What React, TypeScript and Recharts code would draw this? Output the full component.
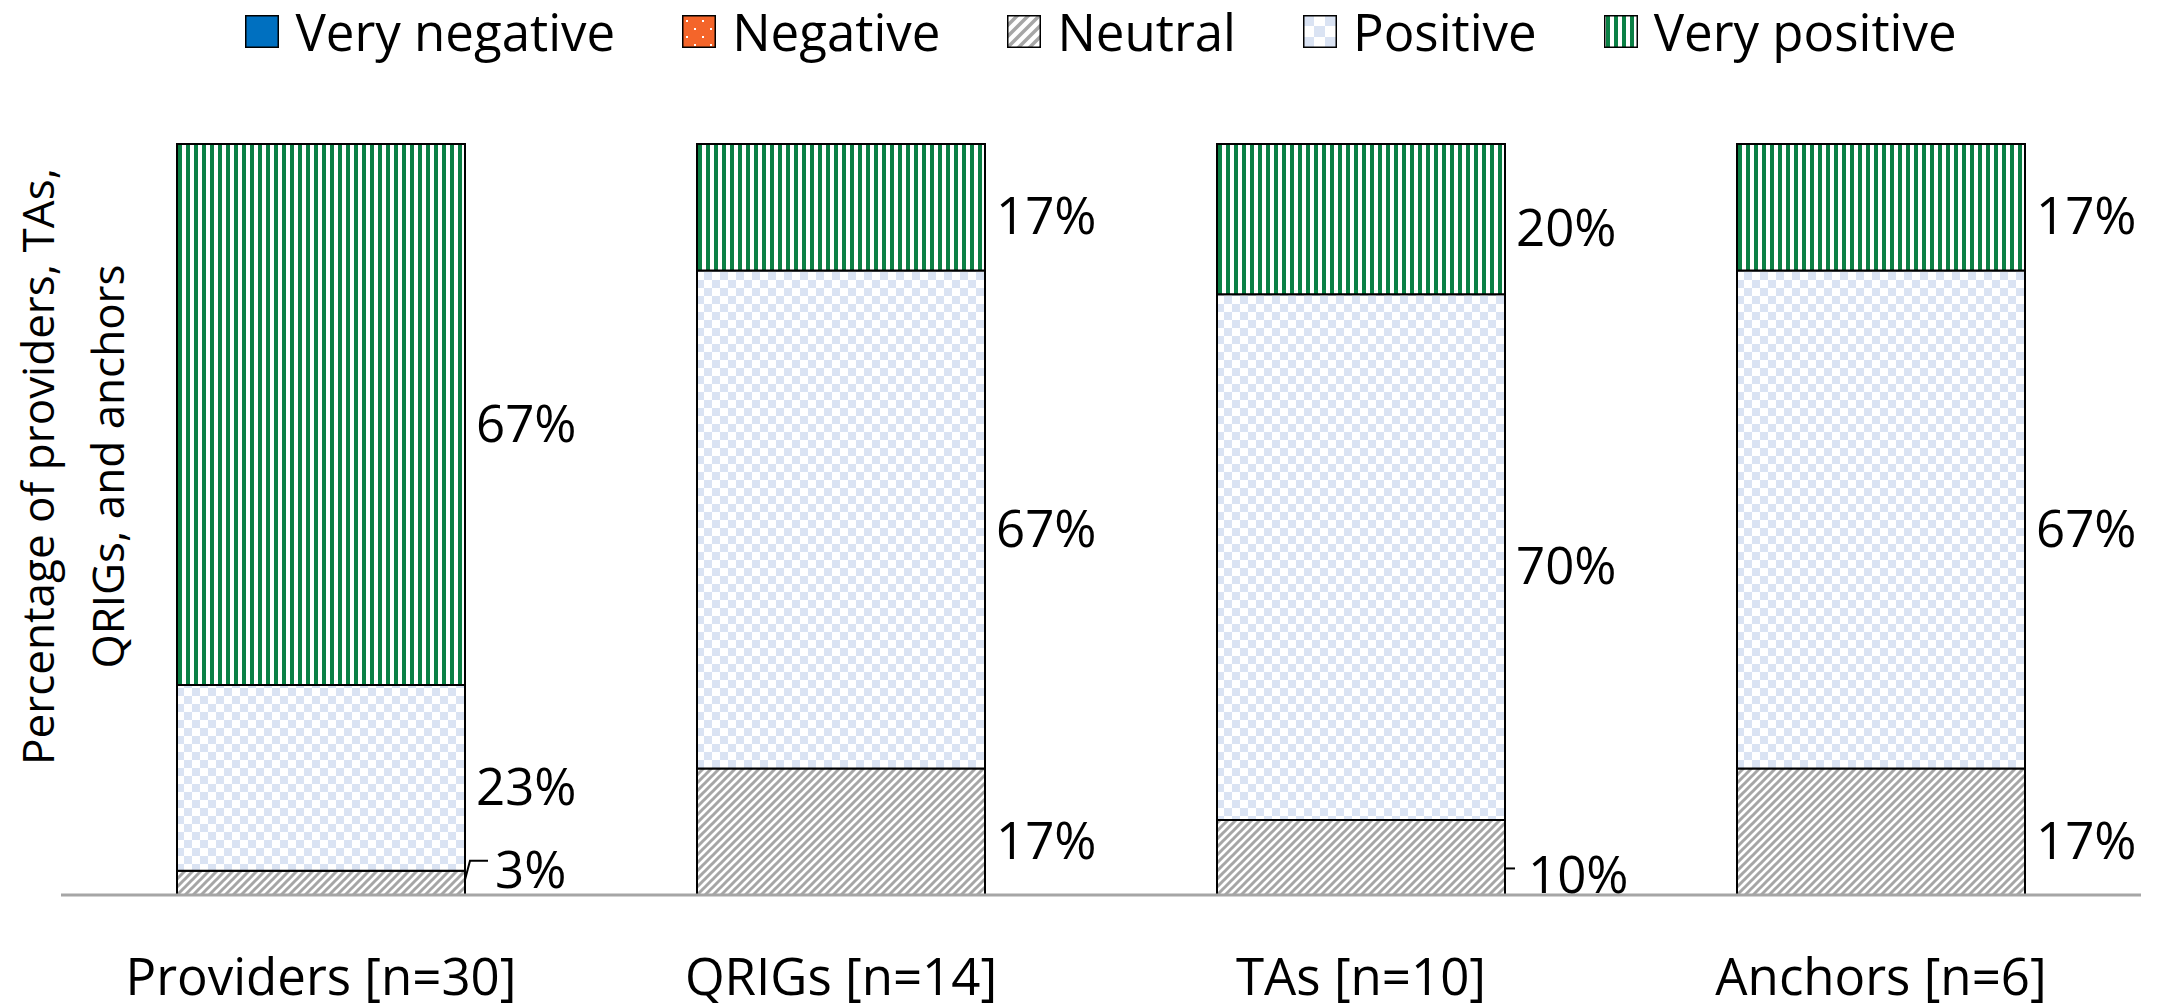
import React from "react";
import { BarChart, Bar, XAxis, YAxis, Legend, LabelList } from "recharts";

const categories = ["Providers [n=30]", "QRIGs [n=14]", "TAs [n=10]", "Anchors [n=6]"];
const veryNegative = [0, 0, 0, 0];
const negative = [0, 0, 0, 0];
const neutral = [3, 17, 10, 17];
const positive = [23, 67, 70, 67];
const veryPositive = [67, 17, 20, 17];
const seriesNames = ["Very negative", "Negative", "Neutral", "Positive", "Very positive"];
const yAxisTitle = ["Percentage of providers, TAs,", "QRIGs, and anchors"];

const FONT = "'Open Sans', 'Noto Sans', sans-serif";
const FS = 51;
const TITLE_FS = 44;

const data = categories.map((name, i) => ({
  name,
  veryNegative: veryNegative[i],
  negative: negative[i],
  neutral: neutral[i],
  positive: positive[i],
  veryPositive: veryPositive[i],
}));

const series = [
  { key: "veryNegative", name: seriesNames[0], fill: "#0070C0", legendFill: "#0070C0", label: false },
  { key: "negative", name: seriesNames[1], fill: "url(#patNeg)", legendFill: "url(#patNegL)", label: false },
  { key: "neutral", name: seriesNames[2], fill: "url(#patNeu)", legendFill: "url(#patNeuL)", label: true },
  { key: "positive", name: seriesNames[3], fill: "url(#patPos)", legendFill: "url(#patPosL)", label: true },
  { key: "veryPositive", name: seriesNames[4], fill: "url(#patVP)", legendFill: "url(#patVP)", label: true },
];

const Patterns = () => (
  <svg width={0} height={0} style={{ position: "absolute" }}>
    <defs>
      <pattern id="patVP" patternUnits="userSpaceOnUse" width={8} height={8}>
        <rect width={8} height={8} fill="#fff" />
        <rect x={2} width={4} height={8} fill="#0B8045" />
      </pattern>
      <pattern id="patPos" patternUnits="userSpaceOnUse" width={16} height={16}>
        <rect width={16} height={16} fill="#fff" />
        <rect x={0} y={0} width={8} height={8} fill="#DAE3F3" />
        <rect x={8} y={8} width={8} height={8} fill="#DAE3F3" />
      </pattern>
      <pattern id="patPosL" patternUnits="userSpaceOnUse" width={22} height={22}>
        <rect width={22} height={22} fill="#fff" />
        <rect x={0} y={0} width={11} height={11} fill="#DAE3F3" />
        <rect x={11} y={11} width={11} height={11} fill="#DAE3F3" />
      </pattern>
      <pattern id="patNeu" patternUnits="userSpaceOnUse" width={8} height={8}>
        <rect width={8} height={8} fill="#fff" />
        <path d="M-2,2 L2,-2 M0,8 L8,0 M6,10 L10,6" stroke="#A6A6A6" strokeWidth={3} />
      </pattern>
      <pattern id="patNeuL" patternUnits="userSpaceOnUse" width={11} height={11}>
        <rect width={11} height={11} fill="#fff" />
        <path d="M-3,3 L3,-3 M0,11 L11,0 M8,14 L14,8" stroke="#A6A6A6" strokeWidth={3.5} />
      </pattern>
      <pattern id="patNeg" patternUnits="userSpaceOnUse" width={12} height={12}>
        <rect width={12} height={12} fill="#F4652A" />
        <rect x={2} y={2} width={2} height={2} fill="#fff" />
        <rect x={8} y={8} width={2} height={2} fill="#fff" />
      </pattern>
      <pattern id="patNegL" patternUnits="userSpaceOnUse" width={16} height={16}>
        <rect width={16} height={16} fill="#F4652A" />
        <rect x={4} y={5} width={2} height={2} fill="#fff" />
        <rect x={12} y={13} width={2} height={2} fill="#fff" />
      </pattern>
    </defs>
  </svg>
);

const renderLabel = (props: any) => {
  const { x, y, width, height, value } = props;
  const v = Number(value);
  if (!v) return null;
  const right = Number(x) + Number(width);
  const top = Number(y);
  const cy = top + Number(height) / 2;
  const txt = `${v}%`;
  const common = { fontFamily: FONT, fontSize: FS, fill: "#000", textAnchor: "start" as const };
  if (v < 5) {
    return (
      <g>
        <polyline
          points={`${right},${top + 9} ${right + 5},${top - 10} ${right + 23},${top - 10}`}
          fill="none"
          stroke="#000"
          strokeWidth={2}
        />
        <text x={right + 30} y={top + 17} {...common}>{txt}</text>
      </g>
    );
  }
  if (v <= 10) {
    return (
      <g>
        <line x1={right} y1={cy + 11} x2={right + 10} y2={cy + 11} stroke="#000" strokeWidth={2} />
        <text x={right + 23} y={cy + 36} {...common}>{txt}</text>
      </g>
    );
  }
  return <text x={right + 11} y={cy + 27} {...common}>{txt}</text>;
};

const CategoryTick = (props: any) => {
  const { x, y, payload } = props;
  return (
    <text x={x} y={Number(y) + 100} textAnchor="middle" fontFamily={FONT} fontSize={FS} fill="#000">
      {payload.value}
    </text>
  );
};

const AxisTitle = (props: any) => {
  const vb = props.viewBox || { x: 0, y: 136, width: 53, height: 751 };
  const cy = vb.y + vb.height / 2 - 53;
  const xs = [vb.x + 46, vb.x + 116];
  return (
    <g>
      {yAxisTitle.map((line, i) => (
        <text
          key={i}
          x={xs[i]}
          y={cy}
          transform={`rotate(-90, ${xs[i]}, ${cy})`}
          textAnchor="middle"
          fontFamily={FONT}
          fontSize={TITLE_FS}
          fill="#000"
        >
          {line}
        </text>
      ))}
    </g>
  );
};

const LegendContent = () => (
  <div
    style={{
      display: "flex",
      justifyContent: "center",
      alignItems: "center",
      height: 51,
      fontFamily: FONT,
      fontSize: FS,
      lineHeight: "51px",
      color: "#000",
      whiteSpace: "nowrap",
    }}
  >
    {series.map((s, i) => (
      <div key={s.key} style={{ display: "flex", alignItems: "center", marginLeft: i ? 67 : 0 }}>
        <svg width={34} height={33} style={{ marginRight: 16, display: "block" }}>
          <rect x={0.75} y={0.75} width={32.5} height={31.5} fill={s.legendFill} stroke="#000" strokeWidth={1.5} />
        </svg>
        <span>{s.name}</span>
      </div>
    ))}
  </div>
);

export default function App() {
  return (
    <div style={{ position: "relative", width: 2154, height: 995 }}>
      <Patterns />
      <BarChart
        width={2154}
        height={995}
        data={data}
        stackOffset="expand"
        barSize={288}
        margin={{ top: 85, right: 21, bottom: 0, left: 0 }}
      >
        <Legend
          verticalAlign="top"
          align="center"
          content={<LegendContent />}
          wrapperStyle={{ top: -2, left: 53, width: 2080, margin: 0, padding: 0 }}
        />
        <XAxis
          dataKey="name"
          interval={0}
          height={108}
          tickLine={false}
          tickSize={0}
          tickMargin={0}
          axisLine={{ stroke: "#A6A6A6", strokeWidth: 3 }}
          tick={<CategoryTick />}
        />
        <YAxis
          type="number"
          domain={[0, 1]}
          width={53}
          tick={false}
          tickLine={false}
          axisLine={false}
          label={{ content: (p: any) => <AxisTitle {...p} /> }}
        />
        {series.map((s) => (
          <Bar
            key={s.key}
            dataKey={s.key}
            name={s.name}
            stackId="a"
            fill={s.fill}
            stroke="#000"
            strokeWidth={2}
            isAnimationActive={false}
          >
            {s.label ? <LabelList dataKey={s.key} content={renderLabel} /> : null}
          </Bar>
        ))}
      </BarChart>
    </div>
  );
}
